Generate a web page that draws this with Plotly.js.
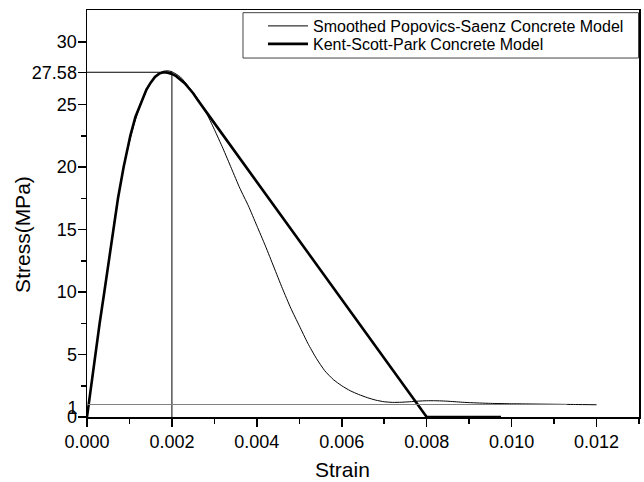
<!DOCTYPE html>
<html>
<head>
<meta charset="utf-8">
<script src="https://cdn.plot.ly/plotly-3.0.1.min.js"></script>
<style>html,body{margin:0;padding:0;background:#fff;}#chart{width:644px;height:482px;}</style>
</head>
<body>
<div id="chart"></div>
<script>
// Smoothed Popovics-Saenz curve (strain, stress MPa)
const psStrain = [0,0.0001,0.0002,0.0003,0.0004,0.0005,0.0006,0.0007,0.0008,0.0009,0.0010,0.0011,0.0012,0.0013,0.0014,0.0015,0.0016,0.0017,0.0018,0.0019,0.0020,0.0022,0.0024,0.0026,0.0028,0.0030,0.0032,0.0034,0.0036,0.0038,0.0040,0.0042,0.0044,0.0046,0.0048,0.0050,0.0052,0.0054,0.0056,0.0058,0.0060,0.0062,0.0064,0.0066,0.0068,0.0070,0.0072,0.0074,0.0076,0.0078,0.0080,0.0082,0.0084,0.0086,0.0088,0.0090,0.0095,0.0100,0.0105,0.0110,0.0115,0.0120];
const psStress = [0,2.6,5.1,7.5,9.8,12.2,14.6,16.9,18.9,20.6,22.0,23.3,24.4,25.3,26.1,26.7,27.2,27.5,27.66,27.7,27.62,27.2,26.4,25.5,24.4,23.0,21.5,19.9,18.3,16.9,15.3,13.7,12.0,10.3,8.7,7.3,5.9,4.7,3.7,3.0,2.5,2.1,1.8,1.55,1.35,1.22,1.17,1.18,1.22,1.27,1.3,1.3,1.28,1.24,1.19,1.15,1.09,1.06,1.04,1.02,1.0,0.98];

// Kent-Scott-Park curve (strain, stress MPa)
const kspStrain = [0,0.000094,0.000196,0.000298,0.000408,0.00051,0.000612,0.00073,0.000863,0.00095,0.00102,0.00114,0.001255,0.00135,0.0014,0.0015,0.0016,0.0017,0.0018,0.0019,0.0020,0.0021,0.0022,0.0023,0.0024,0.0025,0.0026,0.0027,0.0028,0.0080,0.00975];
const kspStress = [0,2.5,5,7.5,10,12.5,15,17.5,20,21.4,22.5,24.0,25,25.8,26.2,26.75,27.2,27.47,27.58,27.55,27.45,27.27,27.0,26.7,26.3,25.9,25.4,24.95,24.45,0,0];

// Peak reference lines
const refStrain = [0,0.002,0.002];
const refStress = [27.58,27.58,0];

// 1 MPa reference line
const oneStrain = [0,0.0113];
const oneStress = [1,1];

// Axis ticks and titles
const xTickVals = [0,0.002,0.004,0.006,0.008,0.010,0.012];
const xTickText = ['0.000','0.002','0.004','0.006','0.008','0.010','0.012'];
const xMinorVals = [0.001,0.003,0.005,0.007,0.009,0.011,0.013];
const yTickVals = [0,5,10,15,20,25,27.58,30];
const yTickText = ['0','5','10','15','20','25','27.58','30'];
const yMinorVals = [2.5,7.5,12.5,17.5,22.5];
const y2TickVals = [1];
const y2TickText = ['1'];
const xTitle = 'Strain';
const yTitle = 'Stress(MPa)';
const seriesNames = ['Smoothed Popovics-Saenz Concrete Model', 'Kent-Scott-Park Concrete Model'];

const FONT = 'Liberation Sans, Arial, sans-serif';
const traces = [
  {x: refStrain, y: refStress, mode:'lines', line:{color:'#000', width:1}, showlegend:false, hoverinfo:'skip'},
  {x: oneStrain, y: oneStress, yaxis:'y2', mode:'lines', line:{color:'#808080', width:1.2}, showlegend:false, hoverinfo:'skip'},
  {x: psStrain, y: psStress, mode:'lines', name:seriesNames[0], legend:'legend', line:{color:'#000', width:1, shape:'spline', smoothing:0.6}},
  {x: kspStrain, y: kspStress, mode:'lines', name:seriesNames[1], legend:'legend2', line:{color:'#000', width:2.6}}
];

const legBase = {xanchor:'left', yanchor:'middle', bgcolor:'rgba(0,0,0,0)', borderwidth:0, font:{size:16, family:FONT, color:'#000'}, itemwidth:40};

const layout = {
  width:644, height:482,
  margin:{l:87, r:5, t:10, b:65},
  paper_bgcolor:'#fff', plot_bgcolor:'#fff',
  font:{family:FONT, color:'#000'},
  showlegend:true,
  legend:Object.assign({x:0.3188, y:0.9607}, legBase),
  legend2:Object.assign({x:0.3188, y:0.9165}, legBase),
  shapes:[{type:'rect', xref:'paper', yref:'paper', x0:0.2826, x1:0.9991, y0:0.882, y1:0.9934, line:{color:'#444', width:1}, fillcolor:'#fff', layer:'above'}],
  annotations:[
    {text:yTitle, xref:'paper', yref:'paper', x:-0.118, y:0.4496, xanchor:'center', yanchor:'middle', textangle:-90, showarrow:false, font:{size:21, family:FONT}},
    {text:xTitle, xref:'paper', yref:'paper', x:0.462, y:-0.1302, xanchor:'center', yanchor:'middle', showarrow:false, font:{size:21, family:FONT}}
  ],
  xaxis:{
    range:[0,0.013], tickvals:xTickVals, ticktext:xTickText,
    ticks:'outside', ticklen:8, tickwidth:1.5, tickcolor:'#000',
    minor:{tickvals:xMinorVals, ticks:'outside', ticklen:5, tickwidth:1.5, tickcolor:'#000'},
    showline:true, linewidth:1.5, linecolor:'#000', mirror:true,
    showgrid:false, zeroline:false,
    tickfont:{size:18, family:FONT}
  },
  yaxis:{
    range:[0,32.56], tickvals:yTickVals, ticktext:yTickText,
    ticks:'outside', ticklen:8, tickwidth:1.5, tickcolor:'#000',
    minor:{tickvals:yMinorVals, ticks:'outside', ticklen:5, tickwidth:1.5, tickcolor:'#000'},
    showline:true, linewidth:1.5, linecolor:'#000', mirror:true,
    showgrid:false, zeroline:false, ticklabelstandoff:-3,
    tickfont:{size:18, family:FONT}
  },
  yaxis2:{
    overlaying:'y', side:'left', anchor:'x',
    range:[0,32.56], tickvals:y2TickVals, ticktext:y2TickText,
    ticks:'outside', ticklen:8, tickcolor:'rgba(0,0,0,0)', ticklabelstandoff:-3, ticklabelshift:3,
    showline:false, showgrid:false, zeroline:false,
    tickfont:{size:18, family:FONT}
  }
};

Plotly.newPlot('chart', traces, layout, {displayModeBar:false, staticPlot:true});
</script>
</body>
</html>
